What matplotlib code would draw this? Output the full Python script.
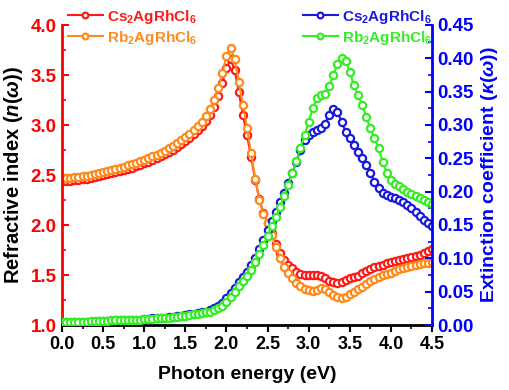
import numpy as np
import matplotlib
matplotlib.use("Agg")
import matplotlib.pyplot as plt

plt.rcParams['font.family'] = ['Liberation Sans', 'DejaVu Sans']
plt.rcParams['font.weight'] = 'bold'
plt.rcParams['mathtext.fontset'] = 'custom'
plt.rcParams['mathtext.default'] = 'bf'
plt.rcParams['mathtext.bf'] = 'Liberation Sans:bold'
plt.rcParams['mathtext.rm'] = 'Liberation Sans:bold'
plt.rcParams['mathtext.it'] = 'Liberation Sans:italic:bold'

# photon energy grid (eV)
energy = np.round(np.arange(0, 4.501, 0.05), 2)

# refractive index n(w)
n_cs = [2.44, 2.44, 2.44, 2.45, 2.45, 2.46, 2.46, 2.47, 2.48, 2.49,
        2.50, 2.51, 2.52, 2.53, 2.54, 2.55, 2.56, 2.57, 2.59, 2.60,
        2.62, 2.63, 2.65, 2.67, 2.69, 2.71, 2.73, 2.75, 2.78, 2.81,
        2.84, 2.87, 2.91, 2.95, 2.99, 3.04, 3.10, 3.18, 3.29, 3.42,
        3.57, 3.66, 3.55, 3.33, 3.10, 2.90, 2.68, 2.45, 2.26, 2.12,
        2.02, 1.92, 1.81, 1.72, 1.65, 1.60, 1.57, 1.53, 1.51, 1.50,
        1.50, 1.50, 1.50, 1.49, 1.47, 1.44, 1.43, 1.42, 1.43, 1.45,
        1.47, 1.48, 1.49, 1.52, 1.54, 1.56, 1.58, 1.59, 1.60, 1.62,
        1.63, 1.64, 1.65, 1.66, 1.67, 1.68, 1.69, 1.70, 1.72, 1.74,
        1.76]
n_rb = [2.47, 2.47, 2.47, 2.48, 2.48, 2.49, 2.49, 2.50, 2.51, 2.52,
        2.53, 2.54, 2.55, 2.56, 2.57, 2.58, 2.60, 2.61, 2.62, 2.64,
        2.65, 2.67, 2.69, 2.70, 2.72, 2.74, 2.77, 2.79, 2.82, 2.85,
        2.88, 2.91, 2.95, 2.99, 3.03, 3.09, 3.16, 3.25, 3.37, 3.52,
        3.69, 3.77, 3.66, 3.43, 3.20, 2.97, 2.72, 2.46, 2.25, 2.11,
        2.02, 1.90, 1.78, 1.67, 1.58, 1.52, 1.47, 1.42, 1.39, 1.36,
        1.35, 1.34, 1.35, 1.37, 1.36, 1.33, 1.30, 1.28, 1.27, 1.28,
        1.31, 1.33, 1.36, 1.38, 1.41, 1.44, 1.46, 1.48, 1.50, 1.51,
        1.52, 1.54, 1.56, 1.57, 1.58, 1.59, 1.60, 1.61, 1.62, 1.62,
        1.63]

# extinction coefficient k(w)
k_cs = [0.004, 0.004, 0.004, 0.004, 0.005, 0.005, 0.005, 0.005, 0.005, 0.006,
        0.006, 0.006, 0.006, 0.007, 0.007, 0.007, 0.007, 0.008, 0.008, 0.008,
        0.009, 0.009, 0.010, 0.010, 0.011, 0.011, 0.012, 0.012, 0.013, 0.014,
        0.015, 0.016, 0.017, 0.018, 0.019, 0.020, 0.022, 0.025, 0.028, 0.033,
        0.040, 0.048, 0.056, 0.064, 0.072, 0.080, 0.090, 0.101, 0.114, 0.127,
        0.142, 0.156, 0.170, 0.184, 0.198, 0.213, 0.228, 0.245, 0.262, 0.277,
        0.285, 0.290, 0.293, 0.296, 0.302, 0.315, 0.324, 0.320, 0.305, 0.290,
        0.280, 0.270, 0.260, 0.250, 0.240, 0.228, 0.215, 0.205, 0.198, 0.195,
        0.192, 0.190, 0.187, 0.184, 0.180, 0.175, 0.169, 0.163, 0.158, 0.153,
        0.148]
k_rb = [0.005, 0.005, 0.005, 0.005, 0.005, 0.005, 0.005, 0.006, 0.006, 0.006,
        0.006, 0.006, 0.007, 0.007, 0.007, 0.007, 0.008, 0.008, 0.008, 0.008,
        0.009, 0.009, 0.009, 0.010, 0.010, 0.011, 0.011, 0.012, 0.012, 0.013,
        0.014, 0.015, 0.016, 0.016, 0.018, 0.019, 0.020, 0.022, 0.025, 0.029,
        0.035, 0.042, 0.050, 0.058, 0.066, 0.074, 0.083, 0.094, 0.106, 0.120,
        0.134, 0.148, 0.162, 0.177, 0.193, 0.210, 0.228, 0.246, 0.266, 0.285,
        0.305, 0.325, 0.340, 0.345, 0.346, 0.358, 0.375, 0.392, 0.400, 0.396,
        0.380, 0.360, 0.345, 0.330, 0.312, 0.295, 0.280, 0.265, 0.245, 0.228,
        0.218, 0.212, 0.208, 0.204, 0.200, 0.197, 0.194, 0.191, 0.188, 0.185,
        0.182]

fig = plt.figure(figsize=(5.1, 3.9), dpi=100)
ax = fig.add_axes([62/510, 65/390, 370/510, 300/390])
ax2 = ax.twinx()

mk = dict(marker='o', markersize=5.2, markerfacecolor='white', markeredgewidth=1.6, linewidth=1.5)
l1, = ax.plot(energy, n_cs, color='#ff1a1a', label='Cs$_2$AgRhCl$_6$', **mk)
l2, = ax.plot(energy, n_rb, color='#ff8a1c', label='Rb$_2$AgRhCl$_6$', **mk)
l3, = ax2.plot(energy, k_cs, color='#1a1adc', label='Cs$_2$AgRhCl$_6$', **mk)
l4, = ax2.plot(energy, k_rb, color='#33ee22', label='Rb$_2$AgRhCl$_6$', **mk)

ax.set_xlim(0, 4.5)
ax.set_ylim(1.0, 4.0)
ax2.set_ylim(0, 0.45)
ax.set_xticks(np.arange(0, 4.51, 0.5))
ax.set_xticks(np.arange(0, 4.51, 0.25), minor=True)
ax.set_yticks(np.arange(1.0, 4.01, 0.5))
ax.set_yticks(np.arange(1.0, 4.01, 0.25), minor=True)
ax2.set_yticks(np.arange(0, 0.451, 0.05))
ax2.set_yticks(np.arange(0, 0.451, 0.025), minor=True)

for a in (ax, ax2):
    a.spines['top'].set_visible(False)
ax.spines['left'].set_color('red')
ax.spines['left'].set_linewidth(2)
ax.spines['bottom'].set_linewidth(2)
ax.spines['right'].set_visible(False)
ax2.spines['left'].set_visible(False)
ax2.spines['bottom'].set_visible(False)
ax2.spines['right'].set_color('blue')
ax2.spines['right'].set_linewidth(2)

ax.tick_params(axis='x', which='major', direction='out', length=5, width=1.5, labelsize=13, pad=3)
ax.tick_params(axis='x', which='minor', direction='out', length=3, width=1.2)
ax.tick_params(axis='y', which='major', direction='in', length=5, width=1.5, colors='red', labelsize=13.5, pad=4)
ax.tick_params(axis='y', which='minor', direction='in', length=3, width=1.2, colors='red')
ax2.tick_params(axis='y', which='major', direction='in', length=5, width=1.5, colors='blue', labelsize=13.5, pad=4)
ax2.tick_params(axis='y', which='minor', direction='in', length=3, width=1.2, colors='blue')

ax.set_xlabel('Photon energy (eV)', fontsize=14, fontweight='bold', labelpad=9)
ax.set_ylabel(r'Refractive index ($\mathit{n}$($\mathit{\omega}$))', fontsize=14.5, fontweight='bold', labelpad=4)
ax2.set_ylabel(r'Extinction coefficient ($\mathit{\kappa}$($\mathit{\omega}$))', fontsize=14,
               fontweight='bold', color='blue', labelpad=4)

legkw = dict(loc='upper left', frameon=False, numpoints=1, handlelength=2.3, handletextpad=0.3,
             labelspacing=0.2, prop={'weight': 'bold', 'size': 11}, labelcolor='linecolor',
             borderaxespad=0.1, markerscale=0.8)
fig.legend(handles=[l1, l2], bbox_to_anchor=(60/510, 1.0), **legkw)
fig.legend(handles=[l3, l4], bbox_to_anchor=(295/510, 1.0), **legkw)

fig.savefig('out.png', dpi=100)
